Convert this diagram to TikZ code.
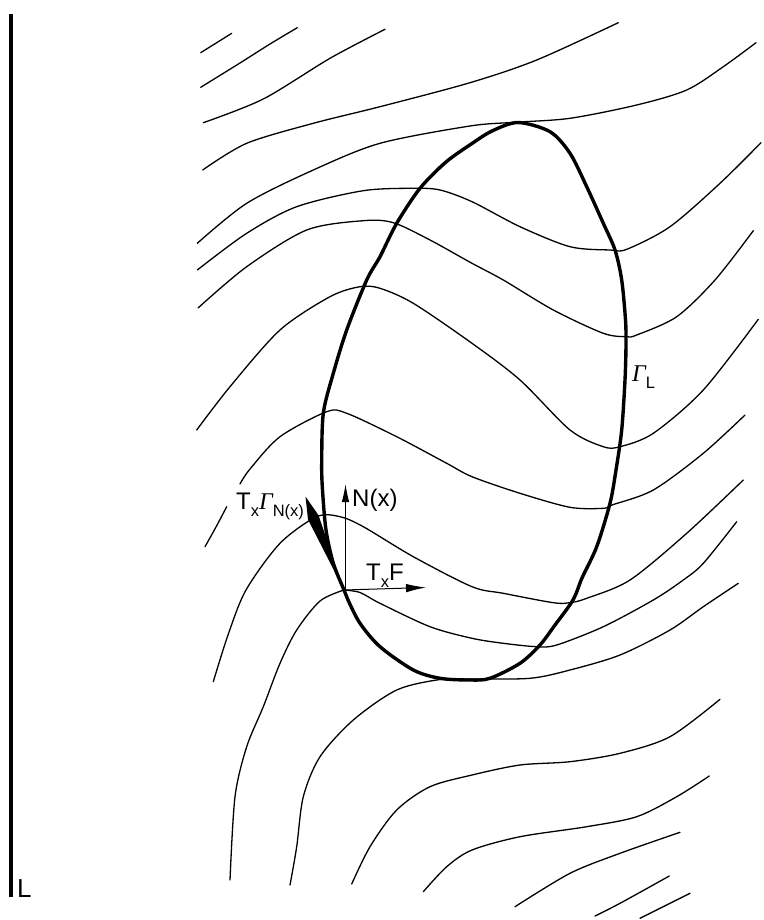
\documentclass[tikz,border=0pt]{standalone}
\usepackage{fontspec}
\setmainfont{Liberation Sans}
\newfontfamily\gfont{Liberation Serif}
\usetikzlibrary{arrows.meta}
\begin{document}
\begin{tikzpicture}[x=1pt,y=-1pt,
  leaf/.style={line width=1.3pt, line cap=round, line join=round},
  border/.style={line width=3.4pt, line join=round},
  vec/.style={line width=1pt, -{Latex[length=18pt,width=7.5pt]}},
  lbl/.style={inner sep=0pt, font=\fontsize{24}{26}\selectfont},
]
\newcommand{\subtxt}[1]{\raisebox{-0.3em}{\fontsize{16.5}{17}\selectfont #1}}
\useasboundingbox (0,0) rectangle (763,920);

% left line L
\draw[line width=3.4pt] (11,14) coordinate (ltop) -- (11,897) coordinate (lbot);
\node[lbl, anchor=base west, font=\fontsize{26}{28}\selectfont] (Llab) at (17,897) {L};

% leaves
\draw[leaf] plot[smooth] coordinates {(200.7,52.7) (231.7,33.3)};
\draw[leaf] plot[smooth] coordinates {(200.7,87.3) (240,63) (270,44) (297.3,27.7)};
\draw[leaf] plot[smooth] coordinates {(203.3,122.7) (263.3,99) (330,58.3) (385,29.3)};
\draw[leaf] plot[smooth] coordinates {(202.7,170) (246.7,143.3) (313.3,123.3) (380,106.7) (470,82.7) (536.7,60) (618.3,22.7)};
\draw[leaf] plot[smooth] coordinates {(197.3,243.3) (246.7,203.3) (313.3,170) (380,143.3) (470,126) (515,122.3) (570,118.3) (636.7,105) (686.7,90) (723.3,66.7) (756,42.7)};
\draw[leaf] plot[smooth] coordinates {(197.3,270) (246.7,233.3) (296.7,206.7) (363.3,190.7) (413.3,188.3) (440,190) (472,201.7) (520,226.7) (570,246.7) (610,250) (626.7,249.3) (670,226.7) (720,183.3) (761,142.7)};
\draw[leaf] plot[smooth] coordinates {(198,308) (246.7,266.7) (306.7,230) (363.3,220.7) (393.3,222.7) (430,240) (472,263.3) (503.3,280) (553.3,310) (603.3,333.3) (626.7,336.7) (636.7,335) (676.7,316.7) (715,280) (753.3,230.7)};
\draw[leaf] plot[smooth] coordinates {(196.7,430) (230,386.7) (280,330) (330,296.7) (360,286.7) (380,288.3) (413.3,303.3) (472,343.3) (520,380) (570,430) (603.3,446.7) (620,446.7) (653.3,433.3) (703.3,390) (758.3,319.3)};
\draw[leaf] plot[smooth] coordinates {(205,546.7) (216,527) (226.7,506.7)};
\draw[leaf] plot[smooth] coordinates {(240,484) (250,469) (280,436.7) (326.7,411.7) (346.7,413.3) (396.7,436.7) (446.7,463.3) (472,476.7) (520,493.3) (570,507.3) (603.3,508.3) (612,505) (653.3,490) (703.3,453.3) (745,415)};
\draw[leaf] plot[smooth] coordinates {(213.3,681.7) (228,635) (246,590) (280,543.3) (316.7,516.7) (340,516.7) (363.3,526.7) (413.3,556.7) (472,586.7) (503.3,593.3) (553.3,602.7) (570,602.7) (586.7,598.3) (630,580) (686.7,533.3) (743.3,480)};
\coordinate (x) at (344,590);
\draw[leaf] plot[smooth] coordinates {(230,880) (235,796.7) (246.7,746.7) (263.3,706.7) (280,663.3) (296.7,630) (320,601) (344,590)};
\draw[leaf] plot[smooth] coordinates {(344,590) (360,592.5) (380,603.3) (430,626.7) (472,638.3) (503.3,643.3) (536.7,646.7) (556.7,645) (603.3,626.7) (653.3,600) (683.3,580) (703.3,563.3) (736.7,521.7)};
\draw[leaf] plot[smooth] coordinates {(290,885) (296.7,846.7) (303.3,796.7) (320,756.7) (353.3,720) (396.7,690) (440,679.5) (470,679) (530,678.3) (570,670) (620,655) (670,630) (703.3,606.7) (738.3,583.3)};
\draw[leaf] plot[smooth] coordinates {(351.7,884) (370,846.7) (396.7,810) (430,786.7) (472,775) (520,765) (570,761.7) (620,753.3) (670,736.7) (720,699.3)};
\draw[leaf] plot[smooth] coordinates {(423.3,891.7) (446.7,866.7) (472,850) (520,836.7) (586.7,826.7) (636.7,816.7) (676.7,796.7) (709.3,776)};
\draw[leaf] plot[smooth] coordinates {(515,906.7) (570,873.3) (620,853.3) (680,832.3)};
\draw[leaf] plot[smooth] coordinates {(595,916) (620,903.3) (669.3,876)};
\draw[leaf] plot[smooth] coordinates {(640,918.3) (690,893.3)};

% Gamma_L
\draw[border] plot[smooth cycle] coordinates {(518,122.5) (550,131.7) (570,153.3) (586.7,186.7) (603.3,223.3) (615,250) (621.7,280) (625.5,320) (626,345) (625,380) (621.7,430) (616,470) (610,503.3) (596.7,546.7) (582,578) (573,600) (555,625) (540,645) (520,663.3) (490,678.3) (470,680) (440,678.3) (413.3,670) (380,646.7) (360,623.3) (348,600) (344,590) (333.3,563.3) (326,530) (322.5,490) (321.7,463.3) (323.3,413.3) (333.3,373.3) (346.7,330) (366.7,280) (380,256.7) (396.7,223.3) (420,188.3) (446,162) (472,143.5) (492,131)};
\node[lbl, anchor=base west] (gl) at (632,381) {{\gfont\itshape Γ}\subtxt{L}};

% vectors
\coordinate (ntip) at (345.5,484);
\coordinate (ftip) at (426,587.5);
\coordinate (gtip) at (305.5,496.5);
\draw[vec] (345.5,590) -- (ntip);
\draw[vec, -{Latex[length=20pt,width=8.5pt]}] (x) -- (ftip);
\fill (x) -- (308,519.5) -- (gtip) -- (318.5,515.2) -- cycle;

\node[lbl, anchor=base west] (nlab) at (352,506) {N(x)};
\node[lbl, anchor=base west] (flab) at (366,580) {T\subtxt{x}F};
\node[lbl, anchor=base west] (glab) at (236,509) {T\subtxt{x}{\gfont\itshape Γ}\subtxt{N(x)}};
\end{tikzpicture}
\end{document}
